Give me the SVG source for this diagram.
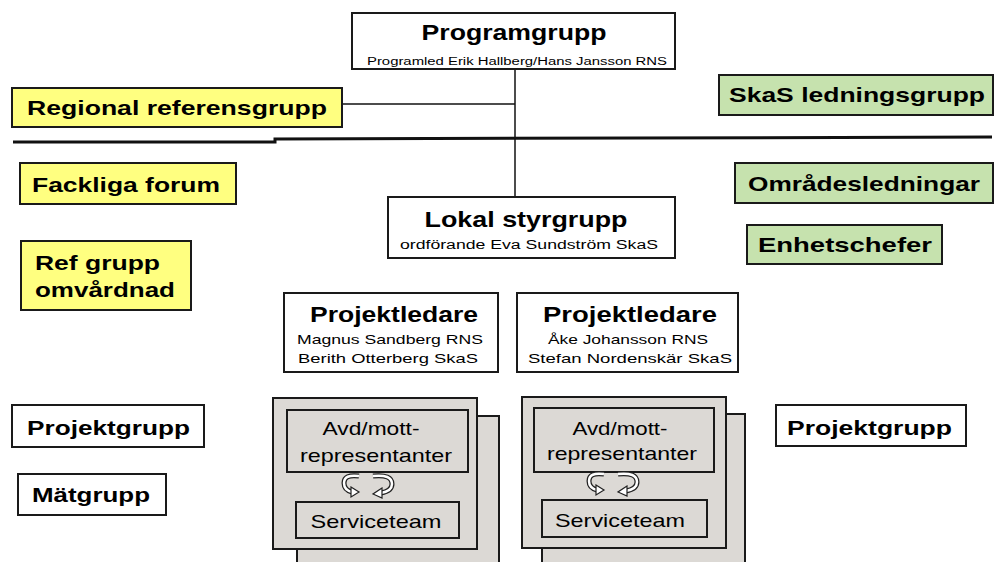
<svg xmlns="http://www.w3.org/2000/svg" width="996" height="562" viewBox="0 0 996 562">
<defs>
<style>
.b{stroke:#1a1a1a;stroke-width:2}
.w{fill:#ffffff}
.y{fill:#ffff80}
.g{fill:#c6e2ae}
.s{fill:#dcd9d5}
.t{font-family:"Liberation Sans",Arial,sans-serif;font-weight:bold;fill:#000}
.n{font-family:"Liberation Sans",Arial,sans-serif;font-weight:normal;fill:#000}
.c{stroke:#111;stroke-width:1.5;fill:none}
.ao{fill:none;stroke:#222;stroke-width:5;stroke-linecap:butt}
.ai{fill:none;stroke:#fff;stroke-width:2.5;stroke-linecap:butt}
.ah{fill:#fff;stroke:#222;stroke-width:1.2}
</style>
</defs>
<rect width="996" height="562" fill="#ffffff"/>

<g id="connectors">
<line class="c" x1="515" y1="69" x2="515" y2="197"/>
<line class="c" x1="343" y1="104" x2="515" y2="104"/>
<path d="M13 142 L275 142 L275 139 L992 137" stroke="#111" stroke-width="3" fill="none"/>
</g>

<g id="programgrupp">
<rect class="b w" x="352" y="13" width="323" height="56"/>
<text class="t" x="514" y="40" font-size="22" text-anchor="middle" textLength="185" lengthAdjust="spacingAndGlyphs">Programgrupp</text>
<text class="n" x="517" y="65" font-size="10" text-anchor="middle" textLength="300" lengthAdjust="spacingAndGlyphs">Programled Erik Hallberg/Hans Jansson RNS</text>
</g>

<g id="regional">
<rect class="b y" x="12" y="88" width="330" height="39"/>
<text class="t" x="27" y="115" font-size="21" textLength="300" lengthAdjust="spacingAndGlyphs">Regional referensgrupp</text>
</g>

<g id="skas">
<rect class="b g" x="719" y="75" width="274" height="40"/>
<text class="t" x="729" y="102" font-size="21" textLength="256" lengthAdjust="spacingAndGlyphs">SkaS ledningsgrupp</text>
</g>

<g id="fackliga">
<rect class="b y" x="20" y="163" width="216" height="41"/>
<text class="t" x="32" y="192" font-size="21" textLength="188" lengthAdjust="spacingAndGlyphs">Fackliga forum</text>
</g>

<g id="refgrupp">
<rect class="b y" x="21" y="241" width="170" height="69"/>
<text class="t" x="35" y="270" font-size="21" textLength="125" lengthAdjust="spacingAndGlyphs">Ref grupp</text>
<text class="t" x="35" y="297" font-size="21" textLength="140" lengthAdjust="spacingAndGlyphs">omvårdnad</text>
</g>

<g id="omrade">
<rect class="b g" x="735" y="163" width="258" height="40"/>
<text class="t" x="748" y="191" font-size="21" textLength="232" lengthAdjust="spacingAndGlyphs">Områdesledningar</text>
</g>

<g id="enhet">
<rect class="b g" x="747" y="225" width="195" height="39"/>
<text class="t" x="758" y="252" font-size="21" textLength="174" lengthAdjust="spacingAndGlyphs">Enhetschefer</text>
</g>

<g id="lokal">
<rect class="b w" x="388" y="197" width="287" height="61"/>
<text class="t" x="526" y="227" font-size="22" text-anchor="middle" textLength="203" lengthAdjust="spacingAndGlyphs">Lokal styrgrupp</text>
<text class="n" x="529" y="249" font-size="12" text-anchor="middle" textLength="258" lengthAdjust="spacingAndGlyphs">ordförande Eva Sundström SkaS</text>
</g>

<g id="projektledare1">
<rect class="b w" x="284" y="293" width="214" height="79"/>
<text class="t" x="394" y="322" font-size="22" text-anchor="middle" textLength="168" lengthAdjust="spacingAndGlyphs">Projektledare</text>
<text class="n" x="390" y="344" font-size="13" text-anchor="middle" textLength="186" lengthAdjust="spacingAndGlyphs">Magnus Sandberg RNS</text>
<text class="n" x="388" y="363" font-size="13" text-anchor="middle" textLength="180" lengthAdjust="spacingAndGlyphs">Berith Otterberg SkaS</text>
</g>

<g id="projektledare2">
<rect class="b w" x="517" y="293" width="221" height="79"/>
<text class="t" x="630" y="322" font-size="22" text-anchor="middle" textLength="174" lengthAdjust="spacingAndGlyphs">Projektledare</text>
<text class="n" x="628" y="344" font-size="13" text-anchor="middle" textLength="160" lengthAdjust="spacingAndGlyphs">Åke Johansson RNS</text>
<text class="n" x="630" y="363" font-size="13" text-anchor="middle" textLength="204" lengthAdjust="spacingAndGlyphs">Stefan Nordenskär SkaS</text>
</g>

<g id="stack1">
<rect class="b s" x="297" y="416" width="202" height="150"/>
<rect class="b s" x="273" y="398" width="204" height="151"/>
<rect class="b s" x="287" y="410" width="181" height="62"/>
<text class="n" x="371" y="435" font-size="19" text-anchor="middle" textLength="97" lengthAdjust="spacingAndGlyphs">Avd/mott-</text>
<text class="n" x="376" y="462" font-size="19" text-anchor="middle" textLength="152" lengthAdjust="spacingAndGlyphs">representanter</text>
<rect class="b s" x="296" y="502" width="163" height="36"/>
<text class="n" x="376" y="528" font-size="19" text-anchor="middle" textLength="131" lengthAdjust="spacingAndGlyphs">Serviceteam</text>
<g id="cycle1">
<path class="ao" d="M359 476 Q344 474 344 483 Q344 490 352 492"/>
<path class="ai" d="M359 476 Q344 474 344 483 Q344 490 352 492"/>
<path class="ah" d="M351 487 L359 492 L351 497 Z"/>
<path class="ao" d="M373 476 Q392 474 392 484 Q392 491 381 493"/>
<path class="ai" d="M373 476 Q392 474 392 484 Q392 491 381 493"/>
<path class="ah" d="M382 488 L373 494 L382 498 Z"/>
</g>
</g>

<g id="stack2">
<rect class="b s" x="542" y="414" width="203" height="152"/>
<rect class="b s" x="522" y="397" width="204" height="151"/>
<rect class="b s" x="534" y="408" width="180" height="64"/>
<text class="n" x="620" y="435" font-size="19" text-anchor="middle" textLength="95" lengthAdjust="spacingAndGlyphs">Avd/mott-</text>
<text class="n" x="622" y="460" font-size="19" text-anchor="middle" textLength="150" lengthAdjust="spacingAndGlyphs">representanter</text>
<rect class="b s" x="542" y="500" width="165" height="37"/>
<text class="n" x="620" y="527" font-size="19" text-anchor="middle" textLength="130" lengthAdjust="spacingAndGlyphs">Serviceteam</text>
<g id="cycle2">
<path class="ao" d="M604 474 Q589 472 589 481 Q589 488 597 490"/>
<path class="ai" d="M604 474 Q589 472 589 481 Q589 488 597 490"/>
<path class="ah" d="M596 485 L604 490 L596 495 Z"/>
<path class="ao" d="M618 474 Q637 472 637 482 Q637 489 626 491"/>
<path class="ai" d="M618 474 Q637 472 637 482 Q637 489 626 491"/>
<path class="ah" d="M627 486 L618 492 L627 496 Z"/>
</g>
</g>

<g id="projektgrupp1">
<rect class="b w" x="12" y="405" width="192" height="42"/>
<text class="t" x="27" y="435" font-size="21" textLength="163" lengthAdjust="spacingAndGlyphs">Projektgrupp</text>
</g>

<g id="matgrupp">
<rect class="b w" x="18" y="474" width="148" height="41"/>
<text class="t" x="32" y="502" font-size="21" textLength="118" lengthAdjust="spacingAndGlyphs">Mätgrupp</text>
</g>

<g id="projektgrupp2">
<rect class="b w" x="776" y="405" width="190" height="41"/>
<text class="t" x="787" y="435" font-size="21" textLength="165" lengthAdjust="spacingAndGlyphs">Projektgrupp</text>
</g>
</svg>
